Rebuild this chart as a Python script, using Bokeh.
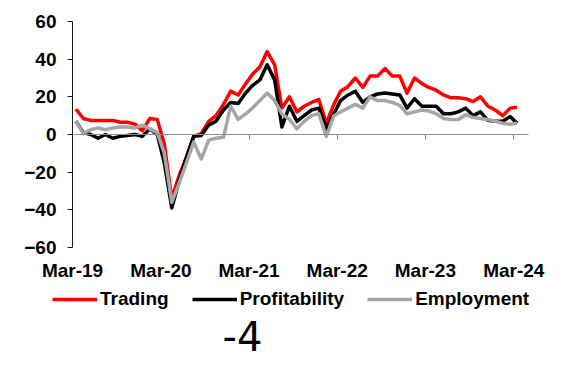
import pandas as pd
from bokeh.plotting import figure
from bokeh.models import (Range1d, FixedTicker, DatetimeAxis, DatetimeTickFormatter,
                          Legend, LegendItem, Label, ColumnDataSource)
from bokeh.embed import file_html
from bokeh.resources import INLINE

# ---- data (monthly balances, Mar-19 .. Mar-24) ----
start_month = "2019-03-01"
trading = [13.5, 8.5, 7.5, 7.5, 7.5, 7.5, 6.5, 6.5, 5.5, 2, 8.5, 8,
           -5, -34, -22, -12, -1, 0.5, 7, 10, 16, 23, 21, 27,
           32, 36, 44, 37, 14, 20, 12, 15, 17, 18.5, 6, 16,
           23, 25.5, 30, 25, 31, 31, 35, 31, 31, 22, 30, 27,
           25, 23.5, 21, 19.5, 19.5, 19, 17.5, 20, 15, 13, 10, 14, 14.5]
profitability = [7, 1, 0, -2, 0, -2, -1, -0.5, 0, -1, 3, 0,
                 -15, -39, -25, -12, -1, -0.5, 5, 7, 13, 17, 16.5, 22,
                 26, 29, 37, 29, 4, 15, 7, 10, 13, 14, 3, 11,
                 18, 21, 23, 17, 20, 21.5, 22, 21.5, 21, 14, 19, 15,
                 15, 15, 11, 11, 12, 14, 10, 12, 7.5, 7, 7, 9.5, 6]
employment = [7, 0.5, 2.5, 3.5, 2.5, 3.5, 4, 4, 3.5, 5, 3, 1,
              -10, -36, -26, -15, -4, -13, -3, -2, -1.5, 15, 8, 11,
              14, 18, 22, 18, 11, 8, 3, 7, 10, 11, -1, 10,
              12, 14, 16, 14, 20, 18, 18, 17, 15.5, 11, 12, 13,
              12.5, 11, 8.5, 8, 8, 10.5, 9, 8.5, 8, 7, 6, 5.5, 6]
series_names = ["Trading", "Profitability", "Employment"]
series_colors = ["#FF0000", "#000000", "#A6A6A6"]
tick_dates = ["2019-03-01", "2020-03-01", "2021-03-01", "2022-03-01", "2023-03-01", "2024-03-01"]
axis_end_date = "2024-05-01"
y_ticks = [-60, -40, -20, 0, 20, 40, 60]
page_note = "-4"

# points sit in the middle of each month (category centres)
months = pd.date_range(start_month, periods=len(trading), freq="MS") + pd.Timedelta(days=14)
src = ColumnDataSource(dict(x=months, t=trading, p=profitability, e=employment))

tick_ms = [pd.Timestamp(d).value / 1e6 for d in tick_dates]
t0 = pd.Timestamp(start_month).value / 1e6
t1 = pd.Timestamp(axis_end_date).value / 1e6
font = "Liberation Sans"
fsize = "19px"

# ---- layout: the frame fills the whole canvas, axes sit at fixed locations ----
W, H = 575, 360
plot_left, plot_right = 72, 528      # pixel span of the time axis
plot_top, y_top, y_bot = 21, 60, -60
px_per_unit = 226 / 120
ms_per_px = (t1 - t0) / (plot_right - plot_left)
x_start = t0 - plot_left * ms_per_px
x_end = t0 + (W - plot_left) * ms_per_px
y_hi = y_top + plot_top / px_per_unit
y_lo = y_top - (H - plot_top) / px_per_unit

p = figure(width=W, height=H, output_backend="svg", toolbar_location=None,
           x_axis_type="datetime",
           x_range=Range1d(x_start, x_end), y_range=Range1d(y_lo, y_hi),
           min_border_left=0, min_border_right=0, min_border_top=0, min_border_bottom=0)
p.outline_line_color = None
p.grid.visible = False
p.background_fill_color = "white"
p.border_fill_color = "white"

# y axis (at Mar-19)
p.yaxis.fixed_location = t0
p.yaxis.bounds = (y_bot, y_top)
p.yaxis.ticker = FixedTicker(ticks=y_ticks)
p.yaxis.axis_line_color = "#1a1a1a"
p.yaxis.major_tick_line_color = "#1a1a1a"
p.yaxis.major_tick_in = 0
p.yaxis.major_tick_out = 5
p.yaxis.minor_tick_line_color = None
p.yaxis.major_label_standoff = 11
p.yaxis.major_label_text_font = font
p.yaxis.major_label_text_font_style = "bold"
p.yaxis.major_label_text_font_size = fsize
p.yaxis.major_label_text_color = "black"

# date labels under the -60 line
fmt = DatetimeTickFormatter(days="%b-%y", months="%b-%y", years="%b-%y")
p.xaxis.fixed_location = y_bot
p.xaxis.ticker = FixedTicker(ticks=tick_ms)
p.xaxis.formatter = fmt
p.xaxis.axis_line_color = None
p.xaxis.major_tick_line_color = None
p.xaxis.major_tick_out = 0
p.xaxis.major_tick_in = 0
p.xaxis.minor_tick_line_color = None
p.xaxis.major_label_standoff = 12
p.xaxis.major_label_text_font = font
p.xaxis.major_label_text_font_style = "bold"
p.xaxis.major_label_text_font_size = fsize
p.xaxis.major_label_text_color = "black"

# zero line with year ticks
zero_axis = DatetimeAxis(fixed_location=0, bounds=(t0, t1),
                         ticker=FixedTicker(ticks=tick_ms), formatter=fmt,
                         axis_line_color="#8C8C8C", major_tick_line_color="#8C8C8C",
                         major_tick_in=0, major_tick_out=5, minor_tick_line_color=None,
                         major_label_overrides={t: "" for t in tick_ms})
p.add_layout(zero_axis, "below")

renderers = []
for col, name, color in zip(["t", "p", "e"], series_names, series_colors):
    r = p.line("x", col, source=src, line_color=color, line_width=3.5, line_join="round")
    renderers.append(r)

legend = Legend(items=[LegendItem(label=n, renderers=[r]) for n, r in zip(series_names, renderers)],
                orientation="horizontal", location=(52, 50),
                padding=0, margin=0, spacing=23, glyph_width=45, glyph_height=20,
                label_standoff=3, label_height=20,
                label_text_font=font, label_text_font_style="bold", label_text_font_size=fsize,
                label_text_color="black",
                border_line_color=None, background_fill_alpha=0)
p.add_layout(legend, "center")

p.add_layout(Label(x=222, y=25, x_units="screen", y_units="screen", text=page_note,
                   text_font="DejaVu Sans", text_font_size="40px", text_baseline="middle",
                   text_color="black"))

open("out.html", "w").write(file_html(p, INLINE))
